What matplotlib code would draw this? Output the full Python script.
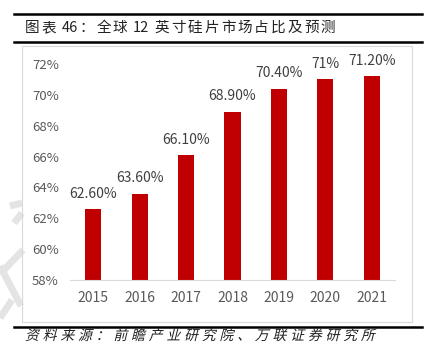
import re
import matplotlib
matplotlib.use("Agg")
import matplotlib.pyplot as plt
from matplotlib.patches import Rectangle
from matplotlib.lines import Line2D
from matplotlib.transforms import Affine2D
from matplotlib import patheffects

plt.rcParams['font.family'] = ['Noto Sans CJK SC', 'DejaVu Sans']

years = ['2015', '2016', '2017', '2018', '2019', '2020', '2021']
share = [62.6, 63.6, 66.1, 68.9, 70.4, 71.0, 71.2]
labels = ['62.60%', '63.60%', '66.10%', '68.90%', '70.40%', '71%', '71.20%']
yticks = [58, 60, 62, 64, 66, 68, 70, 72]

W, H = 429, 342
fig = plt.figure(figsize=(W / 100, H / 100), dpi=100)


class Slant(patheffects.AbstractPathEffect):
    """Shear glyph outlines to fake an italic face."""
    def __init__(self, deg):
        super().__init__()
        self.deg = deg

    def draw_path(self, renderer, gc, tpath, affine, rgbFace=None):
        renderer.draw_path(gc, tpath, Affine2D().skew_deg(self.deg, 0) + affine, rgbFace)


def spaced_text(x_px, y_px, s, size, gap, slant=0, color='#222222'):
    # CJK characters get extra tracking, runs of digits stay together
    renderer = fig.canvas.get_renderer()
    x = x_px
    for tok in re.findall(r'[0-9]+|.', s):
        t = fig.text(x / W, 1 - y_px / H, tok, fontsize=size, va='center', ha='left', color=color)
        if slant:
            t.set_path_effects([Slant(slant)])
        x += t.get_window_extent(renderer).width + (gap if tok != ' ' else 0)


def px_line(x0, y0, x1, y1, **kw):
    fig.add_artist(Line2D([x0 / W, x1 / W], [1 - y0 / H, 1 - y1 / H], **kw))


# faint watermark strokes
wm = dict(color='#e4e4e4', lw=5, solid_capstyle='butt', zorder=0)
px_line(10, 206, 22, 203, **wm)
px_line(14, 223, 22, 213, **wm)
px_line(0, 274, 23, 250, **wm)
px_line(0, 266, 21, 306, **wm)
px_line(0, 318, 12, 300, **wm)

# header and footer rules
px_line(14, 14, 422, 14, color='black', lw=1.8)
px_line(14, 42, 422, 42, color='black', lw=1.8)
px_line(14, 327, 422, 327, color='black', lw=1.8)
# light frame around the chart
fig.add_artist(Rectangle((22 / W, 1 - 322 / H), 390 / W, 276 / H, fill=False,
                         edgecolor='#d9d9d9', lw=0.8))

spaced_text(25, 28, '图表 46：全球 12 英寸硅片市场占比及预测', 10.5, 2.0)
spaced_text(25, 336, '资料来源：前瞻产业研究院、万联证券研究所', 10, 3.8, slant=14)

ax = fig.add_axes([70 / W, 1 - 280 / H, 325 / W, 216 / H])
x = range(len(years))
ax.bar(x, share, width=0.35, color='#c00000', zorder=2)
for xi, v, t in zip(x, share, labels):
    ax.text(xi, v + 0.55, t, ha='center', va='bottom', fontsize=10, color='#404040')

ax.set_ylim(58, 72)
ax.set_xlim(-0.5, len(years) - 0.5)
ax.set_yticks(yticks)
ax.set_yticklabels([f'{t}%' for t in yticks], fontsize=9.5, color='#595959')
ax.set_xticks(list(x))
ax.set_xticklabels(years, fontsize=10, color='#595959')
ax.tick_params(length=0, pad=8)
for s in ['top', 'right', 'left']:
    ax.spines[s].set_visible(False)
ax.spines['bottom'].set_color('#d9d9d9')

fig.savefig('out.png', dpi=100)
